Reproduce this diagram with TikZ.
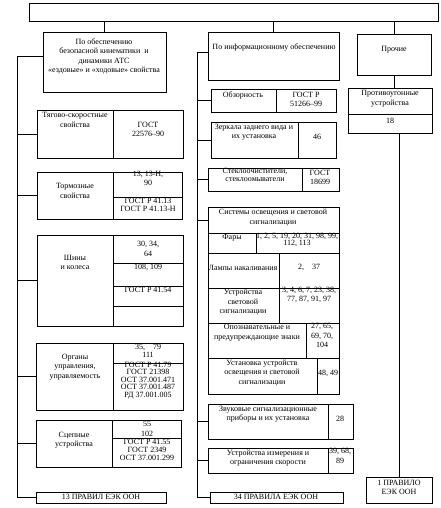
\documentclass[tikz,border=0pt]{standalone}
\usepackage{fontspec}
\setmainfont{Liberation Serif}
\usetikzlibrary{fit}

\begin{document}
\begin{tikzpicture}[
    x=1pt, y=-1pt,
    line width=0.9pt,
    font=\fontsize{8}{9.5}\selectfont,
    cell/.style={draw, inner sep=0pt, fit={#1}},
    txt/.style={inner sep=0pt, align=center},
    tight/.style={font=\fontsize{8}{7.6}\selectfont}
]
\useasboundingbox (0,0) rectangle (440,508);

%% Rámčeky: meno / ľavý horný roh / pravý dolný roh
\foreach \nm/\xa/\ya/\xb/\yb in {
    top/29/3/438/21,
    lhead/43/32/166/92,
    mhead/208/32/339/80,
    prochie/357/34/431/75,
    protiv/348/88/432/133,
    pr1/366/477/432/503,
    pr13/36/492/166/503,
    pr34/210/492/343/503,
    tyag/37/110/183/158,
    tormoz/37/172/182/219,
    shiny/37/235/183/326,
    organy/36/343/183/410,
    scep/36/420/181/467,
    obzor/211/89/336/112,
    zerk/211/122/336/158,
    steklo/208/168/339/191,
    svet/208/207/339/394,
    svhead/208/207/339/233,
    zvuk/208/404/353/439,
    izmer/208/448/353/473
} {
    \node[cell={(\xa,\ya) (\xb,\yb)}] (\nm) {};
}

%% Vnútorné deliace čiary
\draw (348,114) -- (432,114);
\draw (113,110) -- (113,158);
\draw (113,172) -- (113,219)  (113,197) -- (182,197);
\draw (113,235) -- (113,326);
\foreach \yy in {263, 286, 306}
    \draw (113,\yy) -- (183,\yy);
\draw (113,343) -- (113,410)  (113,363) -- (183,363);
\draw (112,420) -- (112,467)  (112,438) -- (181,438);
\draw (276,89) -- (276,112);
\draw (298,122) -- (298,158);
\draw (302,168) -- (302,191);
\foreach \yy in {253, 288, 323, 358}
    \draw (208,\yy) -- (339,\yy);
\draw (256,233) -- (256,253);
\draw (279,253) -- (279,323);
\draw (306,323) -- (306,358);
\draw (317,358) -- (317,394);
\draw (328,404) -- (328,439);
\draw (328,448) -- (328,473);

%% Zbernice
\coordinate (lbusT) at (17,56);
\coordinate (lbusB) at (17,497);
\coordinate (mbusT) at (197,52);
\coordinate (mbusB) at (197,497);

%% Spojnice
\draw (top.south -| lhead.north) -- (lhead.north);
\draw (top.south -| mhead.north) -- (mhead.north);
\draw (top.south -| prochie.north) -- (prochie.north);
\draw (prochie.south) -- (prochie.south |- protiv.north);
\draw (protiv.south -| pr1.north) -- (pr1.north);
\draw (lhead.west |- lbusT) -- (lbusT) -- (lbusB) -- (lbusB -| pr13.west);
\draw (mhead.west |- mbusT) -- (mbusT) -- (mbusB) -- (mbusB -| pr34.west);
\foreach \nm in {tyag, tormoz, shiny, organy, scep}
    \draw (\nm.west) -- (\nm.west -| lbusT);
\foreach \nm in {obzor, zerk, steklo, svhead, zvuk, izmer}
    \draw (\nm.west) -- (\nm.west -| mbusT);

%% Nadpisy skupín
\node[txt] (lheadT) at (104,56.5)
    {По обеспечению\\безопасной кинематики \ и\\динамики АТС\\«ездовые» и «ходовые» свойства};
\node[txt] (mheadT) at (274,48) {По информационному обеспечению};
\node[txt] (prochieT) at (394,50) {Прочие};
\node[txt] (protivT) at (390,98.5) {Противоугонные\\устройства};
\node[txt] (protivN) at (390,121) {18};
\node[txt] (pr1T) at (399,487.5) {1 ПРАВИЛО\\ЕЭК ООН};
\node[txt] (pr13T) at (101,497) {13 ПРАВИЛ ЕЭК ООН};
\node[txt] (pr34T) at (276,497) {34 ПРАВИЛА ЕЭК ООН};

%% Ľavý stĺpec
\node[txt] (tyagL) at (75,120) {Тягово-скоростные\\свойства};
\node[txt] (tyagR) at (148,129.5) {ГОСТ\\22576–90};
\node[txt] (tormozL) at (75,191) {Тормозные\\свойства};
\node[txt] (tormozR) at (148,178.5) {13, 13-Н,\\90};
\node[txt, tight] (tormozG) at (148,205) {ГОСТ Р 41.13\\ГОСТ Р 41.13-Н};
\node[txt] (shinyL) at (75,262.5) {Шины\\и колеса};
\node[txt] (shinyA) at (148,249) {30, 34,\\64};
\node[txt] (shinyB) at (148,267) {108, 109};
\node[txt] (shinyC) at (148,290) {ГОСТ Р 41.54};
\node[txt] (organyL) at (75,367) {Органы\\управления,\\управляемость};
\node[txt, tight] (organyR) at (148,351) {35,\quad 79\\111};
\node[txt, tight] (organyG) at (148,380.5)
    {ГОСТ Р 41.79\\ГОСТ 21398\\ОСТ 37.001.471\\ОСТ 37.001.487\\РД 37.001.005};
\node[txt] (scepL) at (74,440) {Сцепные\\устройства};
\node[txt] (scepR) at (147,429) {55\\102};
\node[txt, tight] (scepG) at (147,450) {ГОСТ Р 41.55\\ГОСТ 2349\\ОСТ 37.001.299};

%% Stredný stĺpec
\node[txt] (obzorL) at (243,95) {Обзорность};
\node[txt] (obzorR) at (306,99.5) {ГОСТ Р\\51266–99};
\node[txt] (zerkL) at (254,132) {Зеркала заднего вида и\\их установка};
\node[txt] (zerkR) at (317,137) {46};
\node[txt, tight] (stekloL) at (255,175) {Стеклоочистители,\\стеклоомыватели};
\node[txt] (stekloR) at (320,177.5) {ГОСТ\\18699};
\node[txt] (svheadT) at (273,217.5) {Системы освещения и световой\\сигнализации};
\node[txt] (faryL) at (232,238) {Фары};
\node[txt, tight] (faryR) at (297,240) {1, 2, 5, 19, 20, 31, 98, 99,\\112, 113};
\node[txt] (lampyL) at (243,268) {Лампы накаливания};
\node[txt] (lampyR) at (309,267) {2,\quad 37};
\node[txt] (ustrL) at (243,302.5) {Устройства\\световой\\сигнализации};
\node[txt] (ustrR) at (309,295) {3, 4, 6, 7, 23, 38,\\77, 87, 91, 97};
\node[txt] (opoznL) at (257,332.5) {Опознавательные и\\предупреждающие знаки};
\node[txt] (opoznR) at (322,335.5) {27, 65,\\69, 70,\\104};
\node[txt] (ustanL) at (262,373) {Установка устройств\\освещения и световой\\сигнализации};
\node[txt] (ustanR) at (328,373) {48, 49};
\node[txt] (zvukL) at (268,414) {Звуковые сигнализационные\\приборы и их установка};
\node[txt] (zvukR) at (340,419) {28};
\node[txt] (izmerL) at (268,458) {Устройства измерения и\\ограничения скорости};
\node[txt] (izmerR) at (340,456) {39, 68,\\89};

\end{tikzpicture}
\end{document}
